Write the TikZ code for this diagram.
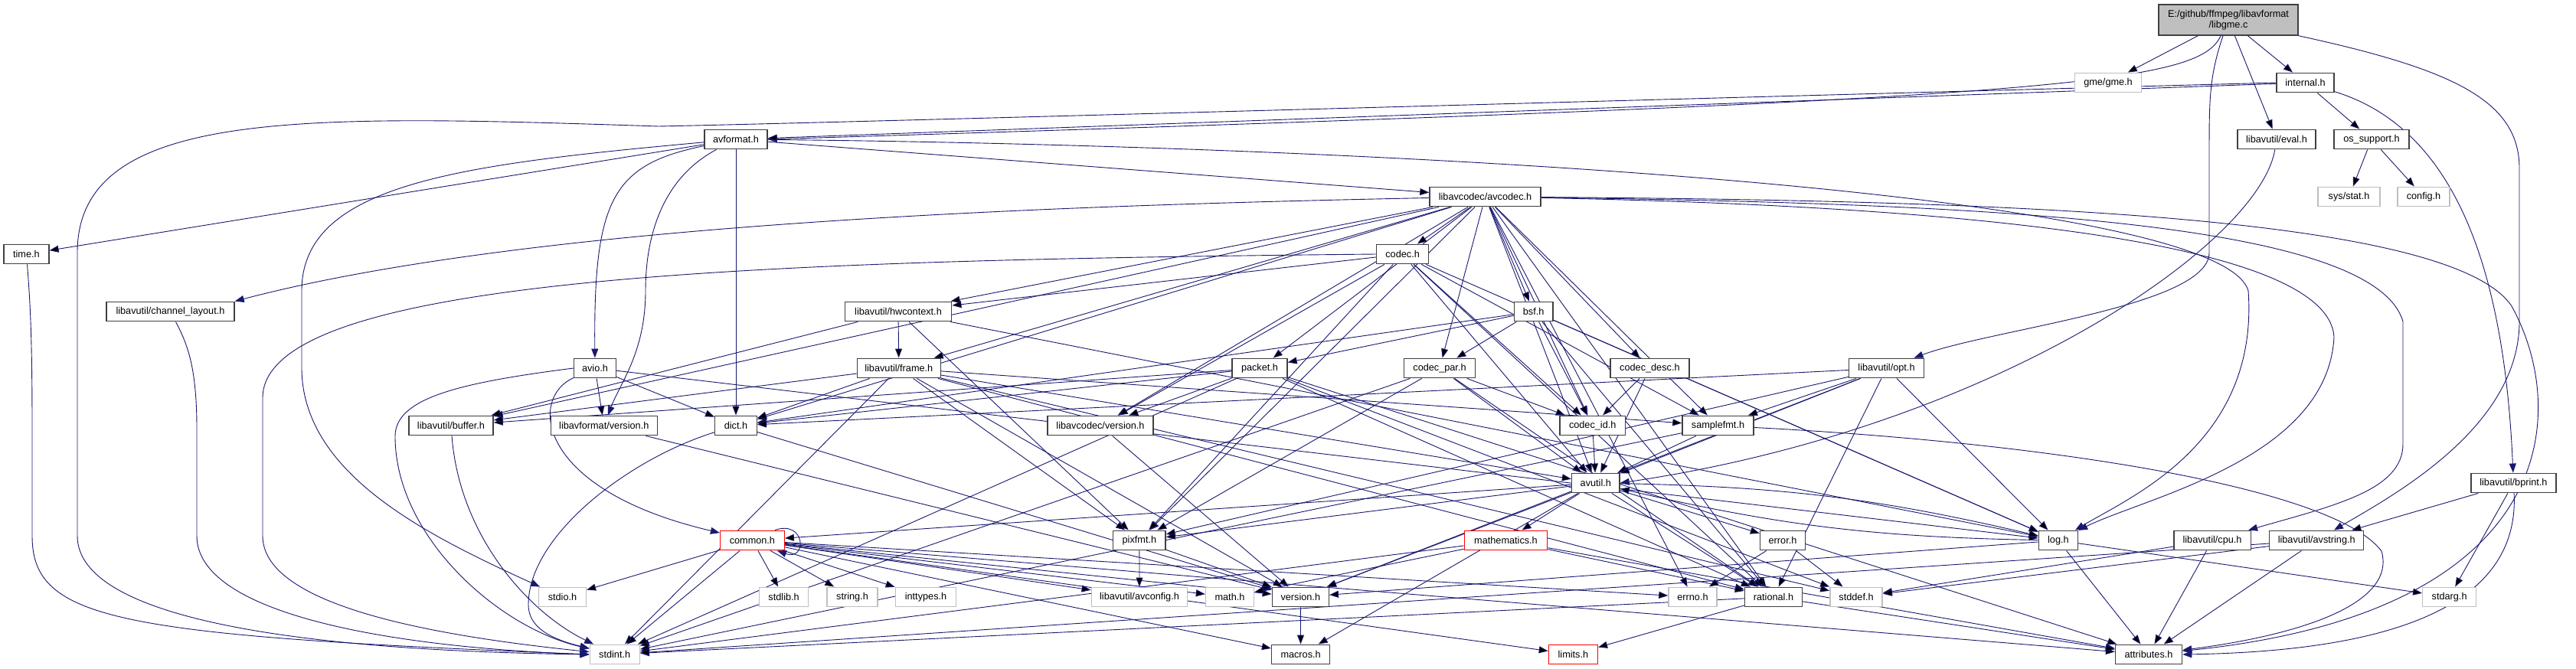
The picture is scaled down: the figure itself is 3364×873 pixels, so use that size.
\documentclass[tikz,border=0pt]{standalone}
\usepackage{fontspec}
\setmainfont{Liberation Sans}
\usetikzlibrary{arrows.meta,backgrounds}
\definecolor{edgeblue}{HTML}{191970}
\definecolor{boxgray}{HTML}{404040}
\definecolor{sysgray}{HTML}{BFBFBF}
\begin{document}
\begin{tikzpicture}[x=1pt, y=-1pt,
	every node/.style={font=\fontsize{12.7}{14.5}\selectfont},
	hdr/.style={draw=boxgray, line width=1.4pt, fill=white, minimum height=25.5pt, inner sep=0pt},
	sys/.style={hdr, draw=sysgray},
	trunc/.style={hdr, draw=red},
	dep/.style={draw=edgeblue, line width=0.9pt, -{Triangle[length=12pt,width=9pt]}}]
	\useasboundingbox (0,0) rectangle (3364,873);
	% row 0-3
	\node[hdr, fill=sysgray, minimum width=182, minimum height=40, align=center] (libgme) at (2910,26) {E:/github/ffmpeg/libavformat\\/libgme.c};
	\node[sys, minimum width=87] (gme) at (2753,108) {gme/gme.h};
	\node[hdr, minimum width=75] (internal) at (3010.5,108) {internal.h};
	\node[hdr, minimum width=82] (avformat) at (961,182) {avformat.h};
	\node[hdr, minimum width=102] (eval) at (2973,182) {libavutil/eval.h};
	\node[hdr, minimum width=98] (ossup) at (3097,182) {os\_support.h};
	\node[hdr, minimum width=145] (avcodec) at (1939.5,257) {libavcodec/avcodec.h};
	\node[sys, minimum width=81] (sysstat) at (3067.5,257) {sys/stat.h};
	\node[sys, minimum width=68] (config) at (3165,257) {config.h};
	% row 4-5
	\node[hdr, minimum width=59] (time) at (34.4,332) {time.h};
	\node[hdr, minimum width=68] (codec) at (1831.6,332) {codec.h};
	\node[hdr, minimum width=167] (chlayout) at (222.5,407) {libavutil/channel\_layout.h};
	\node[hdr, minimum width=139.5] (hwctx) at (1173,407) {libavutil/hwcontext.h};
	\node[hdr, minimum width=50.6] (bsf) at (2002.6,407) {bsf.h};
	% row 6
	\node[hdr, minimum width=55] (avio) at (777,481) {avio.h};
	\node[hdr, minimum width=109] (frame) at (1173.8,481) {libavutil/frame.h};
	\node[hdr, minimum width=72] (packet) at (1645,481) {packet.h};
	\node[hdr, minimum width=93.5] (codecpar) at (1880,481) {codec\_par.h};
	\node[hdr, minimum width=103] (codecdesc) at (2154.4,481) {codec\_desc.h};
	\node[hdr, minimum width=97.5] (opt) at (2463.5,481) {libavutil/opt.h};
	% row 7
	\node[hdr, minimum width=110] (buffer) at (589,556) {libavutil/buffer.h};
	\node[hdr, minimum width=139] (lavfver) at (788.8,556) {libavformat/version.h};
	\node[hdr, minimum width=54.5] (dict) at (961,556) {dict.h};
	\node[hdr, minimum width=138] (lavcver) at (1437,556) {libavcodec/version.h};
	\node[hdr, minimum width=85.4] (codecid) at (2079.7,556) {codec\_id.h};
	\node[hdr, minimum width=93] (samplefmt) at (2243.5,556) {samplefmt.h};
	% row 8-9
	\node[hdr, minimum width=62.5] (avutil) at (2083.8,631) {avutil.h};
	\node[hdr, minimum width=110.8] (bprint) at (3282.4,631) {libavutil/bprint.h};
	\node[trunc, minimum width=83.6] (common) at (982.4,706) {common.h};
	\node[hdr, minimum width=68.3] (pixfmt) at (1487.9,706) {pixfmt.h};
	\node[trunc, minimum width=108.3] (mathematics) at (1966.5,706) {mathematics.h};
	\node[hdr, minimum width=59] (error) at (2328,706) {error.h};
	\node[hdr, minimum width=51] (log) at (2687.9,706) {log.h};
	\node[hdr, minimum width=100.4] (cpu) at (2889,706) {libavutil/cpu.h};
	\node[hdr, minimum width=123] (avstring) at (3025.2,706) {libavutil/avstring.h};
	% row 10-11
	\node[sys, minimum width=61.8] (stdio) at (734.5,780) {stdio.h};
	\node[sys, minimum width=64.3] (stdlib) at (1023.6,780) {stdlib.h};
	\node[sys, minimum width=66] (string) at (1113,780) {string.h};
	\node[sys, minimum width=79.3] (inttypes) at (1209,780) {inttypes.h};
	\node[sys, minimum width=125.5] (avconfig) at (1488,780) {libavutil/avconfig.h};
	\node[sys, minimum width=63] (math) at (1606,780) {math.h};
	\node[hdr, minimum width=74] (version) at (1698.3,780) {version.h};
	\node[sys, minimum width=63] (errno) at (2210.5,780) {errno.h};
	\node[hdr, minimum width=75] (rational) at (2316,780) {rational.h};
	\node[sys, minimum width=68.3] (stddef) at (2424,780) {stddef.h};
	\node[sys, minimum width=69.8] (stdarg) at (3198.6,780) {stdarg.h};
	\node[sys, minimum width=65] (stdint) at (802.7,855) {stdint.h};
	\node[hdr, minimum width=76] (macros) at (1698.6,855) {macros.h};
	\node[trunc, minimum width=64] (limits) at (2054.4,855) {limits.h};
	\node[hdr, minimum width=87] (attributes) at (2806,855) {attributes.h};

	\begin{pgfonlayer}{background}
	\fill[white] (0,0) rectangle (3364,873);
	% libgme.c and libavformat
	\path[dep] (libgme) edge (gme) edge (internal) edge (eval);
	\draw[dep] (libgme) .. controls (2870,110) and (2700,130) .. (avformat.east);
	\draw[dep] (libgme) .. controls (2885,100) and (2885,130) .. (2885,200) -- (2885,330) .. controls (2885,400) and (2600,430) .. (opt);
	\draw[dep] (libgme.south east) .. controls (3200,90) and (3290,130) .. (3290,220) -- (3290,420) .. controls (3290,560) and (3120,650) .. (avstring);
	\path[dep] (internal) edge (avformat) edge (ossup);
	\draw[dep] (internal) .. controls (3180,160) and (3268,300) .. (bprint);
	\draw[dep] (internal.west) .. controls (1800,140) and (1100,160) .. (860,165) .. controls (400,150) and (101,140) .. (101,330) -- (101,700) .. controls (101,810) and (400,850) .. (stdint.west);
	\path[dep] (ossup) edge (sysstat) edge (config);
	\draw[dep] (eval) .. controls (2950,320) and (2600,560) .. (avutil.east);
	\path[dep] (avformat) edge (avcodec) edge (dict) edge (time);
	\draw[dep] (avformat) .. controls (600,215) and (394,240) .. (394,380) -- (394,480) .. controls (394,620) and (560,700) .. (stdio);
	\draw[dep] (avformat) .. controls (800,215) and (775,260) .. (avio);
	\draw[dep] (avformat) .. controls (870,230) and (843,300) .. (843,380) .. controls (843,460) and (810,500) .. (lavfver);
	\draw[dep] (avformat) .. controls (1800,190) and (2900,250) .. (2936,380) .. controls (2950,580) and (2780,650) .. (log);
	\path[dep] (avio) edge (dict) edge (lavfver) edge (log);
	\draw[dep] (avio) .. controls (690,520) and (700,640) .. (common);
	\draw[dep] (avio.west) .. controls (600,500) and (516,520) .. (516,570) .. controls (516,700) and (650,820) .. (stdint);
	\path[dep] (lavfver) edge (version);
	\draw[dep] (time) .. controls (40,400) and (42,450) .. (42,560) -- (42,700) .. controls (42,810) and (150,830) .. (stdint.west);
	% libavcodec
	\path[dep] (avcodec) edge (errno) edge (samplefmt) edge (avutil) edge (buffer) edge (dict) edge (frame) edge (hwctx) edge (pixfmt) edge (rational) edge (bsf) edge (codec) edge (codecdesc) edge (codecpar) edge (codecid) edge (packet) edge (lavcver);
	\draw[dep] (avcodec) .. controls (1400,268) and (700,290) .. (chlayout.north east);
	\draw[dep] (avcodec) .. controls (2600,262) and (3200,280) .. (3280,400) .. controls (3357,540) and (3340,800) .. (attributes);
	\draw[dep] (avcodec) .. controls (2600,266) and (3100,290) .. (3138,420) -- (3138,580) .. controls (3138,640) and (3050,660) .. (cpu);
	\draw[dep] (avcodec) .. controls (2600,270) and (3040,320) .. (3048,440) .. controls (3040,600) and (2800,650) .. (log);
	\path[dep] (codec) edge (avutil) edge (hwctx) edge (log) edge (pixfmt) edge (rational) edge (samplefmt) edge (codecid) edge (lavcver);
	\draw[dep] (codec.west) .. controls (1000,340) and (343,360) .. (343,520) -- (343,700) .. controls (343,790) and (560,830) .. (stdint);
	\path[dep] (bsf) edge (dict) edge (log) edge (rational) edge (codecid) edge (codecpar) edge (packet);
	\path[dep] (codecdesc) edge (avutil) edge (codecid);
	\path[dep] (codecid) edge (avutil);
	\path[dep] (codecpar) edge (stdint) edge (avutil) edge (rational) edge (pixfmt) edge (codecid);
	\path[dep] (packet) edge (stddef) edge (stdint) edge (attributes) edge (buffer) edge (dict) edge (rational) edge (lavcver);
	\path[dep] (lavcver) edge (version);
	% libavutil
	\path[dep] (dict) edge (version);
	\draw[dep] (dict) .. controls (820,600) and (690,700) .. (690,790) .. controls (690,820) and (720,835) .. (stdint);
	\draw[dep] (buffer) .. controls (600,700) and (690,800) .. (stdint);
	\draw[dep] (chlayout) .. controls (245,450) and (257,480) .. (257,560) -- (257,700) .. controls (257,800) and (500,845) .. (stdint.west);
	\path[dep] (hwctx) edge (buffer) edge (frame) edge (log) edge (pixfmt);
	\path[dep] (frame) edge (stddef) edge (stdint) edge (avutil) edge (buffer) edge (dict) edge (rational) edge (samplefmt) edge (pixfmt) edge (version);
	\path[dep] (samplefmt) edge (stdint) edge (avutil);
	\draw[dep] (samplefmt) .. controls (2700,580) and (3050,640) .. (3110,720) .. controls (3130,790) and (3000,830) .. (attributes);
	\path[dep] (opt) edge (rational) edge (avutil) edge (dict) edge (log) edge (pixfmt) edge (samplefmt) edge (version);
	\path[dep] (avutil) edge (common) edge (error) edge (rational) edge (version) edge (macros) edge (mathematics) edge[bend left=6] (log) edge (pixfmt);
	\path[dep] (common) edge (errno) edge (inttypes) edge (limits) edge (math) edge (stdint) edge (stdio) edge (stdlib) edge (string) edge (attributes) edge (macros) edge (version) edge (avconfig);
	\draw[dep] ([xshift=-13pt]common.north east) .. controls +(40,-14) and +(40,14) .. ([xshift=-10pt]common.south east);
	\path[dep] (pixfmt) edge (avconfig) edge (version);
	\path[dep] (mathematics) edge (stdint) edge (math) edge (attributes) edge (rational);
	\path[dep] (error) edge (errno) edge (stddef);
	\path[dep] (rational) edge (stdint) edge (limits) edge (attributes);
	\path[dep] (log) edge (stdarg) edge[bend left=6] (avutil) edge (attributes) edge (version);
	\path[dep] (version) edge (macros);
	\path[dep] (cpu) edge (attributes) edge (stddef);
	\path[dep] (avstring) edge (stddef) edge (stdint) edge (attributes);
	\path[dep] (bprint) edge (stdarg) edge (avstring);
	\draw[dep] (bprint) .. controls (3290,780) and (3150,850) .. (attributes.east);
	\end{pgfonlayer}
\end{tikzpicture}
\end{document}
